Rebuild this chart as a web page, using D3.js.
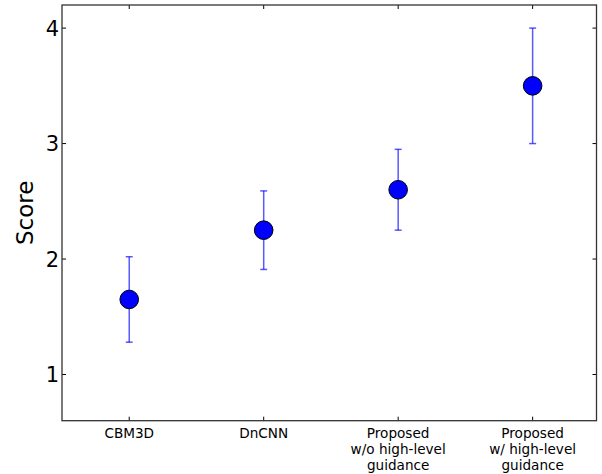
<!DOCTYPE html>
<html>
<head>
<meta charset="utf-8">
<script src="https://cdn.jsdelivr.net/npm/d3@7"></script>
<style>
  html, body { margin: 0; padding: 0; background: #fff; }
  svg { display: block; font-family: "DejaVu Sans", sans-serif; }
</style>
</head>
<body>
<svg id="chart" width="602" height="474"></svg>
<script>
const categories = ["CBM3D", "DnCNN", "Proposed\nw/o high-level\nguidance", "Proposed\nw/ high-level\nguidance"];
const scores = [1.65, 2.25, 2.60, 3.50];
const errors = [0.37, 0.34, 0.35, 0.50];
const yTicks = [1, 2, 3, 4];

(function () {
const svg = d3.select("#chart");
const pLeft = 62, pRight = 596.5, pTop = 5, pBottom = 420.7;

const x = d3.scaleLinear().domain([0.5, 4.475]).range([pLeft, pRight]);
const y = d3.scaleLinear().domain([0.6, 4.2]).range([pBottom, pTop]);
const xs = categories.map((c, i) => i + 1);

// ticks (inward, all four sides)
const tickLen = 4;
const tg = svg.append("g").attr("stroke", "#000").attr("stroke-width", 1);
xs.forEach(v => {
  tg.append("line").attr("x1", x(v)).attr("x2", x(v)).attr("y1", pBottom).attr("y2", pBottom - tickLen);
  tg.append("line").attr("x1", x(v)).attr("x2", x(v)).attr("y1", pTop).attr("y2", pTop + tickLen);
});
yTicks.forEach(v => {
  tg.append("line").attr("x1", pLeft).attr("x2", pLeft + tickLen).attr("y1", y(v)).attr("y2", y(v));
  tg.append("line").attr("x1", pRight).attr("x2", pRight - tickLen).attr("y1", y(v)).attr("y2", y(v));
});

// y tick labels
svg.append("g").selectAll("text").data(yTicks).join("text")
  .attr("x", pLeft - 3).attr("y", d => y(d)).attr("dy", "0.36em")
  .attr("text-anchor", "end").attr("font-size", 21).attr("fill", "#000")
  .text(d => d);

// x tick labels
const xl = svg.append("g");
categories.forEach((c, i) => {
  const lines = c.split("\n");
  const t = xl.append("text").attr("x", x(xs[i])).attr("y", pBottom + 17.5)
    .attr("text-anchor", "middle").attr("font-size", 13.6).attr("fill", "#000");
  lines.forEach((ln, j) => {
    t.append("tspan").attr("x", x(xs[i])).attr("dy", j === 0 ? 0 : 16).text(ln);
  });
});

// y axis label
svg.append("text").attr("transform", `translate(33,${(pTop + pBottom) / 2}) rotate(-90)`)
  .attr("text-anchor", "middle").attr("font-size", 23).attr("fill", "#000").text("Score");

// error bars
const eg = svg.append("g").attr("stroke", "#0000ff").attr("stroke-opacity", 0.65).attr("stroke-width", 1.5);
scores.forEach((s, i) => {
  const cx = x(xs[i]);
  eg.append("line").attr("x1", cx).attr("x2", cx).attr("y1", y(s - errors[i])).attr("y2", y(s + errors[i]));
  [s - errors[i], s + errors[i]].forEach(v => {
    eg.append("line").attr("x1", cx - 3.5).attr("x2", cx + 3.5).attr("y1", y(v)).attr("y2", y(v));
  });
});

// markers
svg.append("g").selectAll("circle").data(scores).join("circle")
  .attr("cx", (d, i) => x(xs[i])).attr("cy", d => y(d)).attr("r", 9.3)
  .attr("fill", "#0000ff").attr("stroke", "#000").attr("stroke-width", 1);

// frame
svg.append("rect").attr("x", pLeft).attr("y", pTop).attr("width", pRight - pLeft).attr("height", pBottom - pTop)
  .attr("fill", "none").attr("stroke", "#333").attr("stroke-width", 1.3);
})();
</script>
</body>
</html>
